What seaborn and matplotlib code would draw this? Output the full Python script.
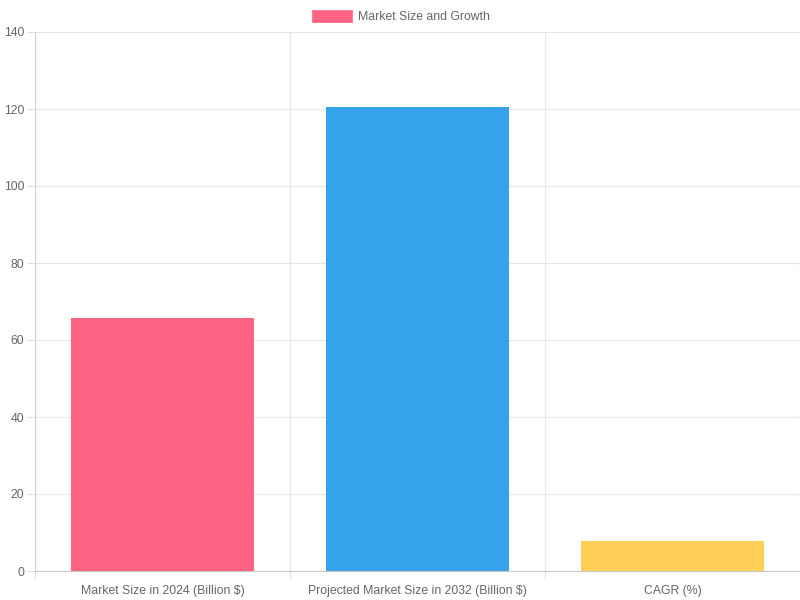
import matplotlib
matplotlib.use("Agg")
import matplotlib.pyplot as plt
import seaborn as sns
import pandas as pd
from matplotlib.patches import Rectangle

categories = ["Market Size in 2024 (Billion $)", "Projected Market Size in 2032 (Billion $)", "CAGR (%)"]
values = [65.7, 120.6, 7.8]
colors = ["#FF6384", "#36A2EB", "#FFCE56"]
series_label = "Market Size and Growth"
yticks = [0, 20, 40, 60, 80, 100, 120, 140]

sns.set_theme(style="white")
plt.rcParams["font.family"] = ["Liberation Sans", "DejaVu Sans"]

df = pd.DataFrame({"category": categories, "value": values})

fig = plt.figure(figsize=(8, 6), dpi=100)
ax = fig.add_axes([35/800, 29/600, 765/800, 539/600])

sns.barplot(data=df, x="category", y="value", hue="category", palette=colors,
            width=0.72, legend=False, ax=ax, saturation=1, edgecolor=None, linewidth=0)

ax.set_xlim(-0.5, 2.5)
ax.set_ylim(0, 140)
ax.set_yticks(yticks)
ax.set_yticklabels([str(t) for t in yticks])
ax.set_xlabel("")
ax.set_ylabel("")

ax.set_xticks([-0.5, 0.5, 1.5, 2.5], minor=True)
ax.tick_params(axis="x", which="both", bottom=True)
ax.tick_params(axis="y", which="major", left=True)
ax.tick_params(axis="x", which="major", length=0, pad=10, labelsize=8.8, labelcolor="#666666")
ax.tick_params(axis="x", which="minor", length=5.8, color="#e0e0e0", width=0.8)
ax.tick_params(axis="y", which="major", length=5.8, color="#e0e0e0", width=0.8, pad=2, labelsize=8.8, labelcolor="#666666")

ax.grid(True, axis="y", which="major", color="#e6e6e6", linewidth=0.8)
ax.grid(True, axis="x", which="minor", color="#e6e6e6", linewidth=0.8)
ax.grid(False, axis="x", which="major")
ax.set_axisbelow(True)

for s in ["top", "right"]:
    ax.spines[s].set_visible(False)
ax.spines["left"].set_color("#d0d0d0")
ax.spines["bottom"].set_color("#c8c8c8")
ax.spines["left"].set_linewidth(0.8)
ax.spines["bottom"].set_linewidth(0.8)

# legend
fig.patches.append(Rectangle((312/800, 1 - 22/600), 40/800, 12/600, transform=fig.transFigure,
                             facecolor=colors[0], edgecolor=colors[0], linewidth=0.5))
fig.text(358/800, 1 - 16.5/600, series_label, ha="left", va="center", fontsize=8.8, color="#666666")

fig.savefig("out.png", dpi=100)
